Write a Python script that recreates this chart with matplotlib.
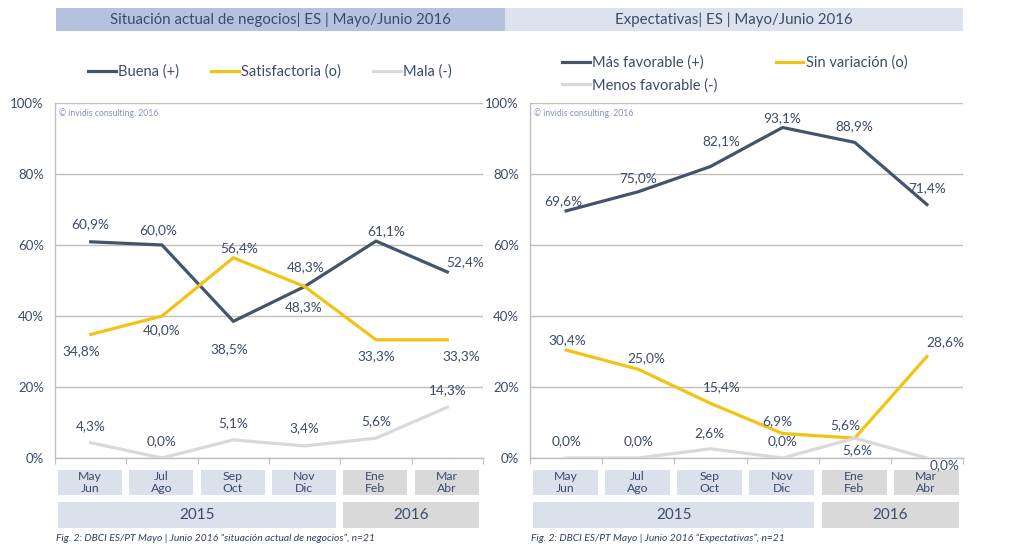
import matplotlib
matplotlib.use("Agg")
import matplotlib.pyplot as plt
from matplotlib.patches import Rectangle
from matplotlib.transforms import blended_transform_factory

plt.rcParams['font.family'] = ['Lato', 'DejaVu Sans']

# data
periods = ["May\nJun", "Jul\nAgo", "Sep\nOct", "Nov\nDic", "Ene\nFeb", "Mar\nAbr"]
years = ["2015", "2016"]
year_spans = [(0, 3), (4, 5)]

names_left = ["Buena (+)", "Satisfactoria (o)", "Mala (-)"]
buena = [60.9, 60.0, 38.5, 48.3, 61.1, 52.4]
satisfactoria = [34.8, 40.0, 56.4, 48.3, 33.3, 33.3]
mala = [4.3, 0.0, 5.1, 3.4, 5.6, 14.3]

names_right = ["Más favorable (+)", "Sin variación (o)", "Menos favorable (-)"]
mas_fav = [69.6, 75.0, 82.1, 93.1, 88.9, 71.4]
sin_var = [30.4, 25.0, 15.4, 6.9, 5.6, 28.6]
menos_fav = [0.0, 0.0, 2.6, 0.0, 5.6, 0.0]

# label offsets in points (dx, dy)
offs_left = [
    [(0, 13), (-3, 11), (-3, -20), (1, 14), (7, 7), (13, 7)],
    [(-7, -12), (0, -10), (4, 7), (-1, -15), (0, -12), (10, -12)],
    [(0, 12), (0, 12), (0, 12), (0, 13), (0, 12), (0, 12)],
]
offs_right = [
    [(-2, 7), (0, 10), (8, 18), (0, 7), (0, 12), (0, 12)],
    [(1, 7), (6, 8), (8, 12), (-4, 9), (-7, 9), (13, 10)],
    [(0, 12), (0, 12), (-1, 11), (0, 12), (2, -9), (13, -5)],
]

colors = ["#44546A", "#F2C313", "#D9D9D9"]
txt = "#3B4B6B"
grid_c = "#BFBFBF"
box_2015 = "#DAE0EC"
box_2016 = "#D9D9D9"

fig = plt.figure(figsize=(10.1, 5.46), dpi=100)


def fmt(v):
    return f"{v:.1f}%".replace(".", ",")


def panel(rect, series, names, offs, title, title_rect, title_color, caption,
          legend_anchor, ncol, colsp):
    ax = fig.add_axes(rect)
    x = list(range(len(periods)))
    handles = []
    for vals, name, c, off in zip(series, names, colors, offs):
        h, = ax.plot(x, vals, color=c, lw=2.3, solid_joinstyle='miter', label=name, zorder=3)
        handles.append(h)
        for xi, v, (dx, dy) in zip(x, vals, off):
            ax.annotate(fmt(v), (xi, v), xytext=(dx, dy), textcoords='offset points',
                        ha='center', va='center', fontsize=9.8, color=txt, zorder=4)
    ax.set_xlim(-0.5, len(periods) - 0.5)
    ax.set_ylim(0, 100)
    ax.set_yticks([0, 20, 40, 60, 80, 100])
    ax.set_yticklabels([f"{t}%" for t in [0, 20, 40, 60, 80, 100]])
    ax.yaxis.grid(True, color=grid_c, lw=1)
    ax.set_axisbelow(True)
    for s in ['top', 'right']:
        ax.spines[s].set_visible(False)
    for s in ['left', 'bottom']:
        ax.spines[s].set_color(grid_c)
        ax.spines[s].set_linewidth(1)
    ax.set_xticks([i - 0.5 for i in range(len(periods) + 1)])
    ax.set_xticklabels([])
    ax.tick_params(axis='x', length=4, color=grid_c, direction='out')
    ax.tick_params(axis='y', length=0, pad=8, labelsize=9.5, labelcolor=txt)
    ax.text(0.01, 0.985, "© invidis consulting. 2016", transform=ax.transAxes,
            fontsize=6.2, color="#8790C4", va='top', ha='left')

    # period and year boxes below the axis
    tr = blended_transform_factory(ax.transData, fig.transFigure)
    for i, p in enumerate(periods):
        fc = box_2015 if i <= year_spans[0][1] else box_2016
        ax.add_patch(Rectangle((i - 0.46, 51 / 546), 0.9, 25 / 546, transform=tr,
                               facecolor=fc, edgecolor='none', clip_on=False))
        ax.text(i - 0.01, 63.5 / 546, p, transform=tr, ha='center', va='center',
                fontsize=8.8, color=txt, linespacing=1.05)
    for (a, b), yr, fc in zip(year_spans, years, [box_2015, box_2016]):
        ax.add_patch(Rectangle((a - 0.46, 18 / 546), b - a + 0.9, 26 / 546, transform=tr,
                               facecolor=fc, edgecolor='none', clip_on=False))
        ax.text((a + b) / 2 - 0.01, 31 / 546, yr, transform=tr, ha='center', va='center',
                fontsize=11, color=txt)
    fig.text(rect[0] + 1 / 1010, 8 / 546, caption, fontsize=7.4, style='italic',
             color="#2F3F63", va='center', ha='left')

    # title bar
    fig.patches.append(Rectangle((title_rect[0], title_rect[1]), title_rect[2], title_rect[3],
                                 transform=fig.transFigure, facecolor=title_color,
                                 edgecolor='none', zorder=0))
    fig.text(title_rect[0] + title_rect[2] / 2, title_rect[1] + title_rect[3] / 2, title,
             ha='center', va='center', fontsize=10.8, color=txt)

    if ncol == 2:
        order = [0, 2, 1]
        handles = [handles[i] for i in order]
    fig.legend(handles=handles, labels=[h.get_label() for h in handles],
               loc='center left', bbox_to_anchor=legend_anchor, ncol=ncol, frameon=False,
               fontsize=10.5, handlelength=1.9, handletextpad=0.15, columnspacing=colsp,
               labelspacing=0.55, borderpad=0, borderaxespad=0, labelcolor=txt)
    return ax


panel([55 / 1010, 88 / 546, 428 / 1010, 355 / 546],
      [buena, satisfactoria, mala], names_left, offs_left,
      "Situación actual de negocios| ES | Mayo/Junio 2016",
      (56 / 1010, (546 - 31) / 546, 449 / 1010, 23 / 546), "#B4C2DD",
      "Fig. 2: DBCI ES/PT Mayo | Junio 2016 “situación actual de negocios”, n=21",
      (88 / 1010, (546 - 72) / 546), 3, 2.2)

panel([530 / 1010, 88 / 546, 433 / 1010, 355 / 546],
      [mas_fav, sin_var, menos_fav], names_right, offs_right,
      "Expectativas| ES | Mayo/Junio 2016",
      (505 / 1010, (546 - 31) / 546, 458 / 1010, 23 / 546), "#DCE3EF",
      "Fig. 2: DBCI ES/PT Mayo | Junio 2016 “Expectativas”, n=21",
      (562 / 1010, (546 - 74) / 546), 2, 4.0)

fig.savefig("out.png", dpi=100, facecolor='white')
